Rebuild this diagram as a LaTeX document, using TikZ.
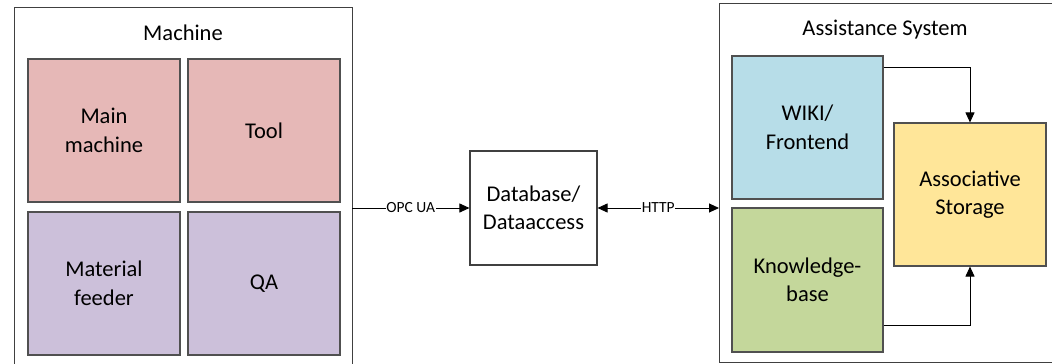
\documentclass[tikz,border=0pt]{standalone}
\usepackage{fontspec}
\setmainfont{Carlito}
\usetikzlibrary{arrows.meta}
\definecolor{pinkc}{HTML}{E6B8B7}
\definecolor{purpc}{HTML}{CCC0DA}
\definecolor{bluec}{HTML}{B7DDE8}
\definecolor{greenc}{HTML}{C4D79B}
\definecolor{yellc}{HTML}{FFE699}
\definecolor{edgec}{HTML}{505050}
\tikzset{
  box/.style={draw=edgec, line width=1.1pt, inner sep=0pt, align=center,
    font=\fontsize{22.5}{28.5}\selectfont},
  frame/.style={draw=black!75, line width=0.9pt},
  title/.style={font=\fontsize{22.5}{28}\selectfont, inner sep=0pt},
  lbl/.style={fill=white, inner sep=0.5pt, font=\fontsize{15.5}{17}\selectfont},
  conn/.style={draw=black, line width=0.9pt, -{Triangle[length=10pt,width=9pt]}},
}
\begin{document}
\begin{tikzpicture}[x=1pt,y=-1pt]
\useasboundingbox (0,0) rectangle (1052,364);
% Machine frame
\draw[frame] (14,370) -- (14,7) -- (352,7) -- (352,370);
\node[title] (mtitle) at (183,33) {Machine};
\node[box, fill=pinkc, minimum width=152pt, minimum height=143pt] (mm) at (104,130.5) {Main\\machine};
\node[box, fill=pinkc, minimum width=152pt, minimum height=143pt] (tool) at (264,130.5) {Tool};
\node[box, fill=purpc, minimum width=152pt, minimum height=143pt] (mf) at (104,283.5) {Material\\feeder};
\node[box, fill=purpc, minimum width=152pt, minimum height=143pt] (qa) at (264,283.5) {QA};
\coordinate (mright) at (352,208);
% Database
\node[box, draw=black!75, fill=white, minimum width=127pt, minimum height=114pt] (db) at (533.5,208) {Database/\\Dataaccess};
% Assistance frame
\draw[frame] (1060,3) -- (719,3) -- (719,362) -- (1060,362);
\coordinate (aleft) at (719,208);
\node[title] (atitle) at (885,30) {Assistance System};
\node[box, fill=bluec, minimum width=151pt, minimum height=143pt] (wiki) at (807.5,127.5) {WIKI/\\Frontend};
\node[box, fill=greenc, minimum width=151pt, minimum height=144pt] (kb) at (807.5,280) {Knowledge-\\base};
\node[box, fill=yellc, minimum width=152pt, minimum height=143pt] (as) at (970,194.5) {Associative\\Storage};
% connectors
\draw[conn] (mright) -- node[lbl] {OPC UA} (db.west);
\draw[conn, {Triangle[length=10pt,width=9pt]}-{Triangle[length=10pt,width=9pt]}] (db.east) -- node[lbl] {HTTP} (aleft);
\draw[conn] (wiki.east |- 0,67) -| (as.north);
\draw[conn] (kb.east |- 0,325) -| (as.south);
\end{tikzpicture}
\end{document}
